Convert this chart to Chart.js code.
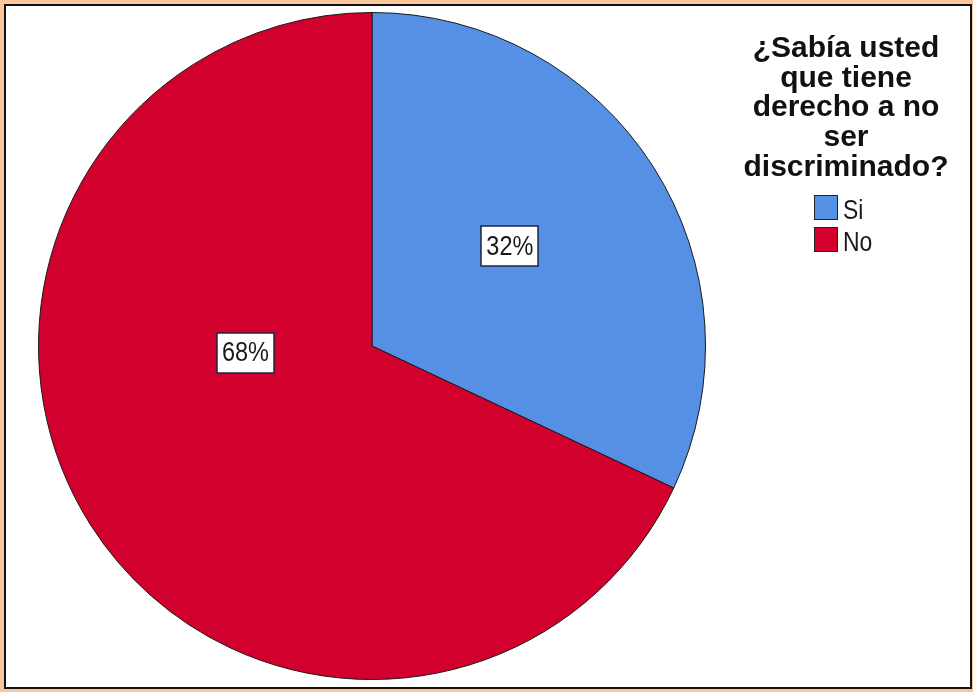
<!DOCTYPE html>
<html>
<head>
<meta charset="utf-8">
<script src="https://cdn.jsdelivr.net/npm/chart.js@4"></script>
<style>
  html, body { margin: 0; padding: 0; background: #fcc69c; }
  #wrap { width: 973px; height: 692px; }
</style>
</head>
<body>
<div id="wrap"><canvas id="pieChart" width="973" height="692"></canvas></div>
<script>
const categories = ['Si', 'No'];
const percents = [32, 68];
const sliceColors = ['#5690e5', '#d2002d'];
const legendTitle = ['¿Sabía usted', 'que tiene', 'derecho a no', 'ser', 'discriminado?'];
// where each value box sits inside its slice: fraction along the arc, fraction of the radius
const labelTurn = [0.47, 0.62];
const labelDist = [0.51, 0.38];

const FONT = '"Liberation Sans", Arial, sans-serif';

// peach frame with a black rule round the white panel
const framePlugin = {
    id: 'frame',
    beforeDraw(chart) {
        const ctx = chart.ctx;
        ctx.save();
        ctx.fillStyle = '#fcc69c';
        ctx.fillRect(0, 0, chart.width, chart.height);
        ctx.fillStyle = '#ffffff';
        ctx.fillRect(5, 5, 966, 683);
        ctx.strokeStyle = '#111111';
        ctx.lineWidth = 2;
        ctx.strokeRect(5, 5, 966, 683);
        ctx.restore();
    }
};

function narrowText(ctx, text, x, y, sx) {
    ctx.save();
    ctx.translate(x, y);
    ctx.scale(sx, 1);
    ctx.fillText(text, 0, 0);
    ctx.restore();
}

// percentage boxes on the slices
const valueBoxes = {
    id: 'valueBoxes',
    afterDatasetsDraw(chart) {
        const ctx = chart.ctx;
        const meta = chart.getDatasetMeta(0);
        ctx.save();
        ctx.font = '27px ' + FONT;
        ctx.textBaseline = 'middle';
        ctx.textAlign = 'center';
        meta.data.forEach((arc, i) => {
            const p = arc.getProps(['x', 'y', 'startAngle', 'endAngle', 'outerRadius'], true);
            const a = p.startAngle + (p.endAngle - p.startAngle) * labelTurn[i];
            const r = p.outerRadius * labelDist[i];
            const cx = p.x + Math.cos(a) * r;
            const cy = p.y + Math.sin(a) * r;
            const text = percents[i] + '%';
            const w = ctx.measureText(text).width * 0.87 + 10;
            const h = 40;
            ctx.fillStyle = '#ffffff';
            ctx.fillRect(Math.round(cx - w / 2), Math.round(cy - h / 2), Math.round(w), h);
            ctx.strokeStyle = '#1c2540';
            ctx.lineWidth = 1.5;
            ctx.strokeRect(Math.round(cx - w / 2), Math.round(cy - h / 2), Math.round(w), h);
            ctx.fillStyle = '#1a1a1a';
            narrowText(ctx, text, cx, cy + 1, 0.87);
        });
        ctx.restore();
    }
};

// legend with a wrapped bold title on the right
const sideLegend = {
    id: 'sideLegend',
    afterDraw(chart) {
        const ctx = chart.ctx;
        const cx = 846;
        ctx.save();
        ctx.fillStyle = '#111111';
        ctx.textAlign = 'center';
        ctx.textBaseline = 'alphabetic';
        ctx.font = 'bold 30px ' + FONT;
        legendTitle.forEach((line, i) => {
            ctx.fillText(line, cx, 57 + i * 29.7);
        });
        ctx.textAlign = 'left';
        ctx.font = '27px ' + FONT;
        const ds = chart.data.datasets[0];
        chart.data.labels.forEach((lab, i) => {
            const top = 196 + i * 32;
            ctx.fillStyle = ds.backgroundColor[i];
            ctx.fillRect(815, top, 22, 23);
            ctx.strokeStyle = '#222222';
            ctx.lineWidth = 1;
            ctx.strokeRect(814.5, top - 0.5, 23, 24);
            ctx.fillStyle = '#1a1a1a';
            narrowText(ctx, lab, 843, top + 23, 0.85);
        });
        ctx.restore();
    }
};

new Chart(document.getElementById('pieChart'), {
    type: 'pie',
    data: {
        labels: categories,
        datasets: [{
            data: percents,
            backgroundColor: sliceColors,
            borderColor: '#1a1a1a',
            borderWidth: 1
        }]
    },
    options: {
        responsive: false,
        devicePixelRatio: 1,
        animation: false,
        layout: {
            padding: { left: 38, right: 267, top: 12, bottom: 12 }
        },
        plugins: {
            legend: { display: false },
            tooltip: { enabled: false }
        }
    },
    plugins: [framePlugin, valueBoxes, sideLegend]
});
</script>
</body>
</html>
